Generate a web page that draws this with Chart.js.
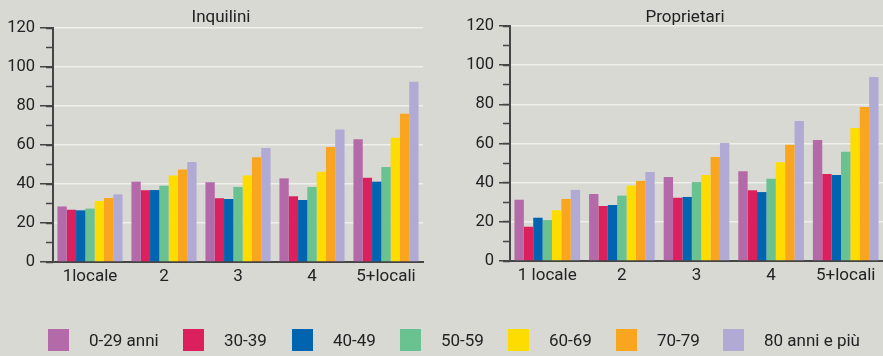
<!DOCTYPE html>
<html>
<head>
<meta charset="utf-8">
<script src="https://cdn.jsdelivr.net/npm/chart.js@4.4.0/dist/chart.umd.min.js"></script>
<style>
html,body{margin:0;padding:0;background:#d8d9d3;width:883px;height:356px;overflow:hidden;}
#c1{position:absolute;left:0;top:0;}
#c2{position:absolute;left:440px;top:0;}
#legend{position:absolute;left:0;top:0;width:883px;height:356px;pointer-events:none;}
.sw{position:absolute;top:329px;width:21px;height:22px;}
.lt{position:absolute;top:328px;height:24px;line-height:24px;font-family:Roboto,"Noto Sans",sans-serif;font-size:17px;color:#222;white-space:nowrap;}
</style>
</head>
<body>
<canvas id="c1" width="440" height="290"></canvas>
<canvas id="c2" width="443" height="289"></canvas>
<div id="legend"></div>
<script>
// ---- DATA ----
const titleLeft = "Inquilini";
const titleRight = "Proprietari";
const categoriesLeft = ["1locale", "2", "3", "4", "5+locali"];
const categoriesRight = ["1 locale", "2", "3", "4", "5+locali"];
const seriesNames = ["0-29 anni", "30-39", "40-49", "50-59", "60-69", "70-79", "80 anni e più"];
const seriesColors = ["#b469a8", "#dc1f5d", "#0064b0", "#69c28f", "#ffdc00", "#f9a51f", "#b0aad5"];

// Inquilini
const inq_0_29  = [28.5, 41.2, 40.9, 42.9, 62.9];
const inq_30_39 = [26.8, 36.8, 32.7, 33.7, 43.2];
const inq_40_49 = [26.5, 36.9, 32.3, 31.8, 41.2];
const inq_50_59 = [27.4, 39.1, 38.5, 38.5, 48.7];
const inq_60_69 = [31.3, 44.4, 44.4, 46.3, 63.7];
const inq_70_79 = [32.8, 47.5, 53.7, 59.0, 76.0];
const inq_80p   = [34.7, 51.3, 58.5, 67.9, 92.5];

// Proprietari
const pro_0_29  = [31.3, 34.2, 42.9, 45.8, 61.8];
const pro_30_39 = [17.5, 28.1, 32.3, 36.1, 44.4];
const pro_40_49 = [22.1, 28.6, 32.7, 35.2, 43.9];
const pro_50_59 = [20.9, 33.4, 40.3, 42.0, 55.8];
const pro_60_69 = [25.9, 38.5, 43.9, 50.4, 67.9];
const pro_70_79 = [31.7, 40.9, 53.1, 59.4, 78.6];
const pro_80p   = [36.3, 45.5, 60.3, 71.5, 94.0];

const yMin = 0, yMax = 120, yMajorStep = 20, yMinorStep = 10;

// ---- CHARTS ----
const inqSeries = [inq_0_29, inq_30_39, inq_40_49, inq_50_59, inq_60_69, inq_70_79, inq_80p];
const proSeries = [pro_0_29, pro_30_39, pro_40_49, pro_50_59, pro_60_69, pro_70_79, pro_80p];

const tickFont = {family: "Roboto, 'Noto Sans', sans-serif", size: 16.5};
const xTickFont = {family: "Roboto, 'Noto Sans', sans-serif", size: 17};
const axisColor = "#454545";

const panelTitle = {
  id: "panelTitle",
  afterDraw(chart, args, opts) {
    const ctx = chart.ctx;
    ctx.save();
    ctx.font = "17px Roboto, 'Noto Sans', sans-serif";
    ctx.fillStyle = "#222";
    ctx.textAlign = "center";
    ctx.textBaseline = "alphabetic";
    ctx.fillText(opts.text, opts.x, opts.y);
    ctx.restore();
  }
};

function makeChart(id, labels, series, title, titleX, yWidth, tickLen, pad) {
  return new Chart(document.getElementById(id), {
    type: "bar",
    data: {
      labels: labels,
      datasets: series.map((d, i) => ({
        label: seriesNames[i],
        data: d,
        backgroundColor: seriesColors[i],
        borderWidth: 0,
        yAxisID: "y",
        categoryPercentage: 0.88,
        barPercentage: 1.0
      }))
    },
    options: {
      responsive: false,
      animation: false,
      layout: {padding: pad},
      plugins: {
        legend: {display: false},
        tooltip: {enabled: false},
        panelTitle: {text: title, x: titleX, y: 22}
      },
      scales: {
        x: {
          grid: {display: false, drawTicks: false},
          border: {display: true, color: axisColor, width: 2},
          ticks: {color: "#222", font: xTickFont, padding: 5, maxRotation: 0, autoSkip: false},
          afterFit(s) { s.height = 28; }
        },
        y: {
          position: "left",
          weight: 1,
          min: yMin, max: yMax,
          ticks: {stepSize: yMajorStep, color: "#222", font: tickFont, padding: 5},
          grid: {
            color: (c) => (c.tick && c.tick.value === 0) ? "rgba(0,0,0,0)" : "#efefec",
            lineWidth: 1.5,
            tickColor: axisColor,
            tickWidth: 1.5,
            tickLength: tickLen
          },
          border: {display: true, color: axisColor, width: 2},
          afterFit(s) { s.width = yWidth; }
        },
        yMinor: {
          position: "left",
          weight: 0,
          min: yMin, max: yMax,
          ticks: {stepSize: yMinorStep, display: false},
          grid: {drawOnChartArea: false, tickLength: 7, tickColor: axisColor, tickWidth: 1.5, color: axisColor},
          border: {display: false},
          afterFit(s) { s.width = 0; }
        }
      }
    },
    plugins: [panelTitle]
  });
}

makeChart("c1", categoriesLeft, inqSeries, titleLeft, 221, 53, 13, {left: 0, right: 17, top: 28, bottom: 0});
makeChart("c2", categoriesRight, proSeries, titleRight, 245, 70, 11, {left: 0, right: 0, top: 26, bottom: 0});

// ---- LEGEND ----
const legendX = [48, 183, 292, 400, 508, 616, 723];
const lg = document.getElementById("legend");
seriesNames.forEach((n, i) => {
  const sw = document.createElement("div");
  sw.className = "sw";
  sw.style.left = legendX[i] + "px";
  sw.style.background = seriesColors[i];
  lg.appendChild(sw);
  const t = document.createElement("div");
  t.className = "lt";
  t.style.left = (legendX[i] + 41) + "px";
  t.textContent = n;
  lg.appendChild(t);
});
</script>
</body>
</html>
